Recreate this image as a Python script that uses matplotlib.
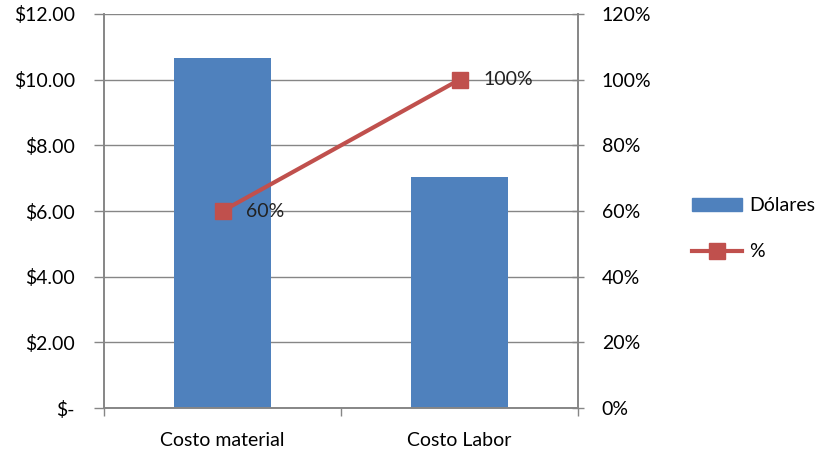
import matplotlib.pyplot as plt
from matplotlib.lines import Line2D
from matplotlib.patches import Patch

# data
categories = ["Costo material", "Costo Labor"]
dolares = [10.66, 7.05]
porcentaje = [60, 100]
pct_labels = ["60%", "100%"]

usd_ticks = [0, 2, 4, 6, 8, 10, 12]
usd_labels = ["$-", "$2.00", "$4.00", "$6.00", "$8.00", "$10.00", "$12.00"]
pct_ticks = [0, 20, 40, 60, 80, 100, 120]
pct_tick_labels = ["0%", "20%", "40%", "60%", "80%", "100%", "120%"]

blue = "#4F81BD"
red = "#C0504D"
gray = "#868686"
fs = 14

plt.rcParams["font.family"] = ["Lato", "DejaVu Sans"]

fig = plt.figure(figsize=(8.24, 4.53), dpi=100)
ax = fig.add_axes([0.1262, 0.0993, 0.5753, 0.8698])
ax2 = ax.twinx()

x = list(range(len(categories)))
ax.bar(x, dolares, width=0.41, color=blue, zorder=2)
ax.set_xlim(-0.5, 1.5)
ax.set_ylim(0, 12)
ax.set_yticks(usd_ticks)
ax.set_yticklabels(usd_labels)
ax.grid(axis="y", color=gray, linewidth=1, zorder=0)
ax.set_axisbelow(True)

# category ticks sit between the groups
ax.set_xticks([-0.5, 0.5, 1.5])
ax.set_xticklabels([])
ax.set_xticks(x, minor=True)
ax.set_xticklabels(categories, minor=True)
ax.tick_params(axis="x", which="minor", length=0, pad=17, labelsize=fs)
ax.tick_params(axis="x", which="major", length=6, color=gray, width=1)
ax.tick_params(axis="y", length=7, color=gray, width=1, labelsize=fs, pad=14)

ax2.plot(x, porcentaje, color=red, linewidth=3, marker="s", markersize=11, zorder=3)
ax2.set_ylim(0, 120)
ax2.set_yticks(pct_ticks)
ax2.set_yticklabels(pct_tick_labels)
ax2.tick_params(axis="y", length=8, direction="inout", color=gray, width=1,
                labelsize=fs, pad=13)
for xi, yi, lab in zip(x, porcentaje, pct_labels):
    ax2.annotate(lab, (xi, yi), xytext=(17, 0), textcoords="offset points",
                 va="center", ha="left", fontsize=fs, color="#222222")

for a in (ax, ax2):
    a.spines["top"].set_visible(False)
    for s in ("left", "right", "bottom"):
        a.spines[s].set_color(gray)
        a.spines[s].set_linewidth(1.2)

handles = [
    Patch(facecolor=blue, edgecolor=blue),
    Line2D([0], [0], color=red, linewidth=3, marker="s", markersize=11),
]
fig.legend(handles, ["Dólares", "%"], loc="center left",
           bbox_to_anchor=(0.818, 0.495), frameon=False, fontsize=fs,
           handlelength=2.6, handletextpad=0.35, labelspacing=1.5)

fig.savefig("out.png", dpi=100)
